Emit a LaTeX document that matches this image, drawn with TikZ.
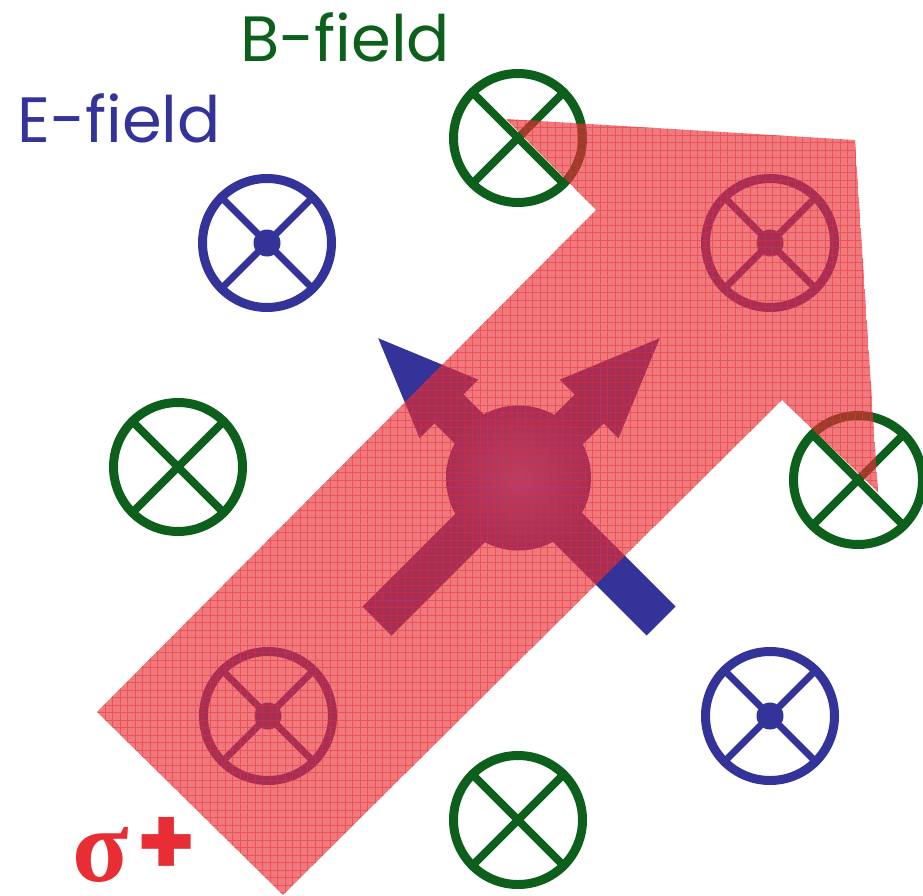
\documentclass[tikz,border=0pt]{standalone}
\usepackage{fontspec}
\setmainfont{Poppins}
\newfontfamily\sigmafont{Liberation Serif}
\newfontfamily\plusfont{Poppins}
\usetikzlibrary{calc}

\definecolor{eblue}{RGB}{51,51,153}
\definecolor{bgreen}{RGB}{12,96,28}
\definecolor{beamred}{RGB}{232,45,52}

\tikzset{
  ring/.style={line width=9pt},
  efield/.pic={
    \draw[eblue,ring] (0,0) circle (64.5);
    \draw[eblue,line width=7pt] (45:64.5) -- (225:64.5) (135:64.5) -- (315:64.5);
    \fill[eblue] (0,0) circle (13.5);
  },
  bfield/.pic={
    \draw[bgreen,ring] (0,0) circle (64.5);
    \draw[bgreen,line width=8pt] (45:64.5) -- (225:64.5) (135:64.5) -- (315:64.5);
  },
  label/.style={inner sep=0pt,anchor=base west,font=\fontsize{64}{64}\selectfont},
  spinarrow/.style={fill=eblue},
  beamfill/.style={fill=beamred,fill opacity=0.64},
  beamgrid/.style={draw=beamred,line width=0.9pt,opacity=0.5},
}

\begin{document}
\begin{tikzpicture}[x=1pt,y=-1pt]
\useasboundingbox (0,0) rectangle (923,896);

% field markers around the atom
\pic at (267,243) {efield};
\pic at (770,243) {efield};
\pic at (268,716) {efield};
\pic at (770,716) {efield};
\pic at (518,138) {bfield};
\pic at (178,467) {bfield};
\pic at (858,480) {bfield};
\pic at (518,820) {bfield};

% labels
\node[label,text=eblue] (elabel) at (17,143) {E-field};
\node[label,text=bgreen] (blabel) at (240,62) {B-field};
\node[inner sep=0pt,anchor=base west,text=beamred] (sigma) at (72,881)
  {\sigmafont\bfseries\fontsize{104}{104}\selectfont σ\hspace{8pt}\raisebox{6pt}{\plusfont\bfseries\fontsize{96}{96}\selectfont +}};

% crossed arrows through the atom
\fill[spinarrow] (675.5,606.5) -- (463.4,394.4) -- (478.2,379.6) -- (378.2,338.2)
  -- (419.6,438.2) -- (434.4,423.4) -- (646.5,635.5) -- cycle;
\fill[spinarrow] (391.5,635.5) -- (603.6,423.4) -- (618.4,438.2) -- (659.8,338.2)
  -- (559.8,379.6) -- (574.6,394.4) -- (362.5,606.5) -- cycle;

% the atom
\shade[inner color={rgb,255:red,95;green,95;blue,195},outer color=eblue] (518.5,478) circle (72.5);

% circularly polarised beam
\coordinate (b1) at (97,712);
\coordinate (b2) at (596,210);
\coordinate (b3) at (506,119);
\coordinate (b4) at (855,140);
\coordinate (b5) at (878,492);
\coordinate (b6) at (782,400);
\coordinate (b7) at (283,895);
\begin{scope}
  \clip (b1) -- (b2) -- (b3) -- (b4) -- (b5) -- (b6) -- (b7) -- cycle;
  \fill[beamfill] (b1) -- (b2) -- (b3) -- (b4) -- (b5) -- (b6) -- (b7) -- cycle;
  \draw[beamgrid,step=7.5pt] (90,110) grid (890,900);
\end{scope}
\end{tikzpicture}
\end{document}
